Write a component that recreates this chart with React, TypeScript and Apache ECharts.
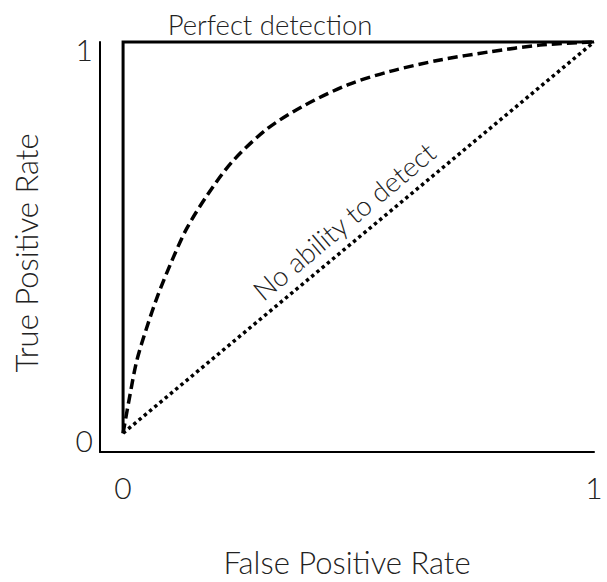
import React, { useEffect, useRef } from "react";
import * as echarts from "echarts";

// ROC-style curve
const fpr = [0, 0.015, 0.029, 0.05, 0.074, 0.103, 0.135, 0.178, 0.231, 0.305, 0.382, 0.478, 0.567, 0.673, 0.779, 0.885, 1];
const tpr = [0, 0.1, 0.185, 0.269, 0.353, 0.439, 0.523, 0.607, 0.693, 0.777, 0.836, 0.891, 0.925, 0.954, 0.975, 0.992, 1];
const perfectX = [0, 0, 1];
const perfectY = [0, 1, 1];
const chanceX = [0, 1];
const chanceY = [0, 1];
const xTicks = [0, 1];
const yTicks = [0, 1];
const xTitle = "False Positive Rate";
const yTitle = "True Positive Rate";
const perfectText = "Perfect detection";
const chanceText = "No ability to detect";

const FONT = "'Lato Light', Lato";
const TXT = "#222";

export default function App() {
  const ref = useRef<HTMLDivElement>(null);
  useEffect(() => {
    if (!ref.current) return;
    const chart = echarts.init(ref.current, null, { renderer: "svg" });
    const zip = (a: number[], b: number[]) => a.map((v, i) => [v, b[i]]);
    const labelStyle = {
      fontFamily: FONT,
      fontWeight: 300 as any,
      fontSize: 30,
      color: TXT,
    };
    chart.setOption({
      animation: false,
      grid: { left: 100, right: 13, top: 42, bottom: 127, containLabel: false },
      xAxis: {
        type: "value",
        min: -0.049,
        max: 1,
        splitLine: { show: false },
        axisTick: { show: false },
        axisLine: { show: true, onZero: false, lineStyle: { color: "#000", width: 2 } },
        axisLabel: {
          ...labelStyle,
          customValues: xTicks,
          margin: 20,
          formatter: (v: number) => String(v),
        },
        name: xTitle,
        nameLocation: "middle",
        nameGap: 94,
        nameTextStyle: { fontFamily: FONT, fontWeight: 300, fontSize: 31, color: TXT },
      },
      yAxis: {
        type: "value",
        min: -0.048,
        max: 1,
        splitLine: { show: false },
        axisTick: { show: false },
        axisLine: { show: true, onZero: false, lineStyle: { color: "#000", width: 2 } },
        axisLabel: {
          ...labelStyle,
          customValues: yTicks,
          margin: 7,
          verticalAlign: "top",
          lineHeight: 14,
          formatter: (v: number) => String(v),
        },
        name: yTitle,
        nameLocation: "middle",
        nameGap: 59,
        nameTextStyle: {
          fontFamily: FONT,
          fontWeight: 300,
          fontSize: 31,
          color: TXT,
          padding: [0, 12, 0, 0],
        },
      },
      series: [
        {
          type: "line",
          data: zip(chanceX, chanceY),
          symbol: "none",
          clip: false,
          lineStyle: { color: "#000", width: 3.5, type: [3.4, 3.4], cap: "butt" },
          z: 2,
        },
        {
          type: "line",
          data: zip(fpr, tpr),
          symbol: "none",
          smooth: 0.3,
          clip: false,
          lineStyle: { color: "#000", width: 3.5, type: [10, 5], cap: "butt" },
          z: 3,
        },
        {
          type: "line",
          data: zip(perfectX, perfectY),
          symbol: "none",
          clip: false,
          lineStyle: { color: "#000", width: 3, join: "miter" },
          z: 4,
        },
      ],
      graphic: [
        {
          type: "text",
          x: 270,
          y: 38,
          style: {
            text: perfectText,
            fontFamily: FONT,
            fontWeight: 300,
            fontSize: 27.5,
            fill: TXT,
            align: "center",
            verticalAlign: "bottom",
          },
        },
        {
          type: "text",
          x: 344,
          y: 221,
          rotation: (40 * Math.PI) / 180,
          style: {
            text: chanceText,
            fontFamily: FONT,
            fontWeight: 300,
            fontSize: 27.5,
            fill: TXT,
            align: "center",
            verticalAlign: "middle",
          },
        },
      ],
    });
    return () => chart.dispose();
  }, []);
  return (
    <div
      ref={ref}
      style={{ position: "absolute", left: 0, top: 0, width: 607, height: 582, background: "#fff" }}
    />
  );
}
